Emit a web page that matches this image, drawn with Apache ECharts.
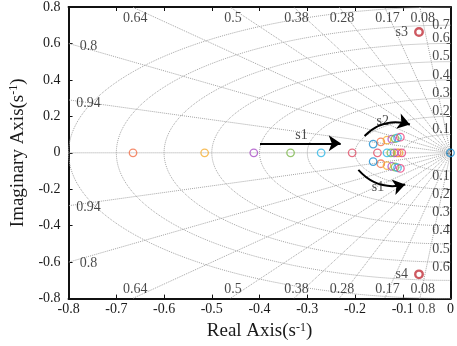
<!DOCTYPE html>
<html>
<head>
<meta charset="utf-8">
<script src="https://cdn.jsdelivr.net/npm/echarts@6/dist/echarts.min.js"></script>
<style>
html, body { margin: 0; padding: 0; background: #fff; }
#chart { width: 457px; height: 346px; }
</style>
</head>
<body>
<div id="chart"></div>
<script>
// sgrid values
const zetaValues = [0.08, 0.17, 0.28, 0.38, 0.5, 0.64, 0.8, 0.94];
const wnValues = [0.1, 0.2, 0.3, 0.4, 0.5, 0.6, 0.7, 0.8];

// poles, one array per colour [re, im]
const polesOrange = [[-0.665, 0], [-0.146, 0.06], [-0.146, -0.06], [-0.112, 0]];
const polesYellow = [[-0.515, 0], [-0.133, 0.07], [-0.133, -0.07], [-0.108, 0]];
const polesPurple = [[-0.412, 0], [-0.123, 0.075], [-0.123, -0.075], [-0.118, 0]];
const polesGreen = [[-0.335, 0], [-0.116, 0.078], [-0.116, -0.078], [-0.125, 0]];
const polesCyan = [[-0.271, 0], [-0.111, 0.082], [-0.111, -0.082], [-0.133, 0]];
const polesRed = [[-0.206, 0], [-0.153, 0]];
const polesBlue = [[0, 0], [-0.162, 0.048], [-0.162, -0.048]];
const polesMagenta = [[-0.105, 0.086], [-0.105, -0.086], [-0.102, 0]];
const polesS3S4 = [[-0.066, 0.663, 's3'], [-0.066, -0.667, 's4']];

// annotation arrows
const arrowS1 = [[-0.399, 0.052], [-0.23, 0.052]];
const arrowS2 = [[-0.18, 0.092], [-0.085, 0.155]];
const arrowS1Low = [[-0.193, -0.094], [-0.095, -0.174]];
const arrowLabels = [[-0.312, 0.098, 's1'], [-0.142, 0.172, 's2'], [-0.152, -0.19, 's1']];

const FONT = 'Liberation Serif';
const GRID_GRAY = '#a4a4a4';

// damping rays run from origin to the plot edge
let rays = [{ coords: [[-0.8, 0], [0, 0]] }];
let zetaLabels = [];
zetaValues.forEach(z => {
    let s = Math.sqrt(1 - z * z);
    let t = Math.min(0.8 / z, 0.8 / s);
    let top = 0.8 / s <= 0.8 / z;
    [1, -1].forEach(sg => {
        rays.push({ coords: [[0, 0], [-z * t, sg * s * t]] });
        zetaLabels.push({
            value: [-z * t, sg * s * t],
            label: {
                formatter: String(z),
                offset: top ? [3, sg > 0 ? 11 : -9] : [20, sg > 0 ? 3 : 1.5]
            }
        });
    });
});

// natural frequency half-circles
let circles = wnValues.map(w => {
    let pts = [];
    for (let a = 90; a <= 270; a += 2) {
        let r = a * Math.PI / 180;
        pts.push([w * Math.cos(r), w * Math.sin(r)]);
    }
    return { coords: pts };
});

let wnLabels = [];
wnValues.forEach(w => {
    if (w < 0.8) {
        wnLabels.push({ value: [-0.02, w], label: { formatter: String(w), offset: [0, w === 0.7 ? 0 : -5] } });
        if (w < 0.7) wnLabels.push({ value: [-0.02, -w], label: { formatter: String(w), offset: [0, 5] } });
    } else {
        wnLabels.push({ value: [-0.05, -w], label: { formatter: String(w), offset: [0, 11] } });
    }
});

function poleSeries(data, color) {
    return {
        type: 'scatter',
        data: data,
        symbol: 'circle',
        symbolSize: 7.5,
        z: 5,
        itemStyle: { color: 'rgba(0,0,0,0)', borderColor: color, borderWidth: 1.3 }
    };
}

function textSeries(data, extra) {
    return {
        type: 'scatter',
        data: data,
        symbolSize: 0,
        clip: false,
        silent: true,
        z: 4,
        label: Object.assign({
            show: true,
            position: 'inside',
            color: '#1a1a1a',
            fontFamily: FONT,
            fontSize: 14
        }, extra || {})
    };
}

let chart = echarts.init(document.getElementById('chart'));

let axisCommon = {
    type: 'value',
    min: -0.8,
    axisLine: { onZero: false, lineStyle: { color: '#111', width: 2 } },
    axisTick: { inside: true, length: 4, lineStyle: { color: '#111', width: 1 } },
    splitLine: { show: false },
    axisLabel: { color: '#1a1a1a', fontFamily: FONT, fontSize: 14 }
};

let option = {
    animation: false,
    grid: { left: 57, right: 5, top: 4, bottom: 42 },
    xAxis: [
        Object.assign({}, axisCommon, {
            max: 0, interval: 0.1, position: 'bottom',
            axisLabel: { color: '#1a1a1a', fontFamily: FONT, fontSize: 14, margin: 4 },
            name: 'Real Axis(s{sup|-1})',
            nameLocation: 'middle',
            nameGap: 18,
            nameTextStyle: {
                color: '#1a1a1a', fontFamily: FONT, fontSize: 19,
                rich: { sup: { fontFamily: FONT, fontSize: 12, color: '#1a1a1a', verticalAlign: 'top', padding: [0, 0, 8, 0] } }
            }
        }),
        Object.assign({}, axisCommon, {
            max: 0, interval: 0.1, position: 'top',
            axisLabel: { show: false }
        })
    ],
    yAxis: [
        Object.assign({}, axisCommon, {
            max: 0.8, interval: 0.2, position: 'left',
            axisLabel: { color: '#1a1a1a', fontFamily: FONT, fontSize: 14, margin: 8 },
            name: 'Imaginary Axis(s{sup|-1})',
            nameLocation: 'middle',
            nameGap: 33,
            nameTextStyle: {
                color: '#1a1a1a', fontFamily: FONT, fontSize: 19,
                rich: { sup: { fontFamily: FONT, fontSize: 12, color: '#1a1a1a', verticalAlign: 'top', padding: [0, 0, 8, 0] } }
            }
        }),
        Object.assign({}, axisCommon, {
            max: 0.8, interval: 0.2, position: 'right',
            axisLabel: { show: false }
        })
    ],
    series: [
        {
            type: 'lines', coordinateSystem: 'cartesian2d', polyline: true, silent: true, z: 1,
            lineStyle: { color: GRID_GRAY, width: 1, type: 'dotted', opacity: 1 },
            data: rays
        },
        {
            type: 'lines', coordinateSystem: 'cartesian2d', polyline: true, silent: true, z: 1,
            lineStyle: { color: GRID_GRAY, width: 1, type: 'dotted', opacity: 1 },
            data: circles
        },
        textSeries(zetaLabels),
        textSeries(wnLabels),
        poleSeries(polesOrange, '#F2704A'),
        poleSeries(polesYellow, '#F5AE32'),
        poleSeries(polesPurple, '#A94FC6'),
        poleSeries(polesGreen, '#7DB84C'),
        poleSeries(polesCyan, '#2FB7E6'),
        poleSeries(polesRed, '#E14E66'),
        poleSeries(polesBlue, '#1C8FD2'),
        poleSeries(polesMagenta, '#E8447E'),
        {
            type: 'scatter',
            data: polesS3S4,
            symbol: 'circle',
            symbolSize: 7.5,
            z: 5,
            itemStyle: { color: 'rgba(0,0,0,0)', borderColor: '#C0303A', borderWidth: 2.4 },
            label: {
                show: true, position: 'left', distance: 6,
                formatter: p => p.value[2],
                color: '#1a1a1a', fontFamily: FONT, fontSize: 14
            }
        },
        {
            type: 'lines', coordinateSystem: 'cartesian2d', silent: true, z: 6,
            symbol: ['none', 'arrow'], symbolSize: 12,
            lineStyle: { color: '#000', width: 2, opacity: 1 },
            data: [
                { coords: arrowS1, lineStyle: { curveness: 0 } },
                { coords: arrowS2, lineStyle: { curveness: 0.3 } },
                { coords: arrowS1Low, lineStyle: { curveness: -0.3 } }
            ]
        },
        textSeries(arrowLabels.map(d => ({ value: [d[0], d[1]], label: { formatter: d[2] } })))
    ]
};

chart.setOption(option);
</script>
</body>
</html>
